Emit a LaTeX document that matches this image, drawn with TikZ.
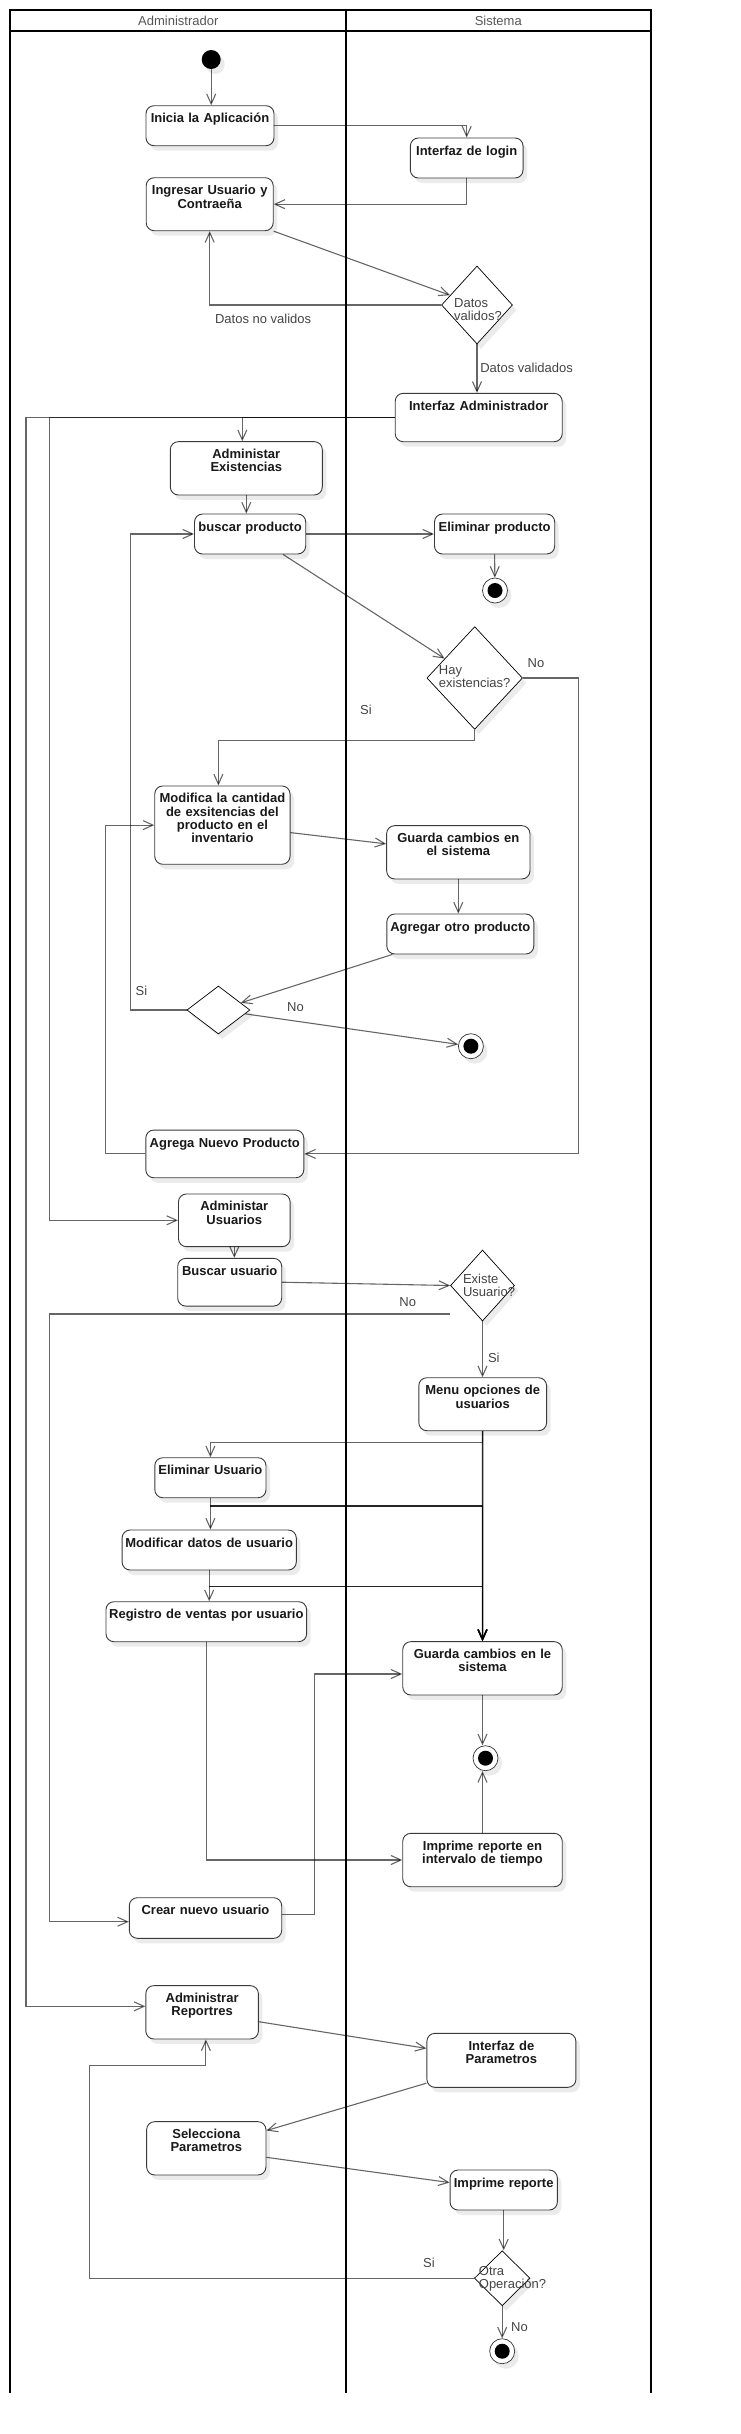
\documentclass[tikz,border=0pt]{standalone}
\usepackage{fontspec}
\setmainfont{Liberation Sans}
\usetikzlibrary{arrows.meta,shapes.geometric,shadows}
\definecolor{boxline}{HTML}{3A3A3A}
\definecolor{lanetext}{HTML}{555555}
\definecolor{guardtext}{HTML}{444444}
\definecolor{shadowgray}{HTML}{EBEBEB}
\newcommand{\actfont}{\fontsize{13}{13.3}\selectfont\bfseries}
\newcommand{\guardfont}{\fontsize{13}{12.8}\selectfont}
\tikzset{
	lane/.style={line width=2pt, draw=black},
	lane title/.style={font=\guardfont, text=lanetext, anchor=base},
	box shadow/.style={drop shadow={shadow xshift=4pt, shadow yshift=-5pt, fill=shadowgray, opacity=1}},
	activity/.style={
		rectangle,
		rounded corners=8pt,
		draw=boxline,
		line width=0.9pt,
		fill=white,
		align=center,
		font=\actfont,
		text=black!90,
		inner xsep=1pt,
		inner ysep=7.5pt,
		text height=9.5pt,
		box shadow
	},
	decision/.style={diamond, draw=black, line width=0.7pt, fill=white, inner sep=0pt, box shadow},
	decision text/.style={font=\guardfont, text=guardtext, align=left, inner sep=0pt, anchor=north west},
	start point/.style={circle, fill=black, inner sep=0pt, minimum size=19pt, box shadow},
	end point/.style={
		circle,
		draw=black!80,
		line width=0.7pt,
		fill=white,
		inner sep=0pt,
		minimum size=25pt,
		box shadow,
		path picture={\fill[black] (path picture bounding box.center) circle (7.5pt);}
	},
	guard/.style={font=\guardfont, text=guardtext, inner sep=0pt},
	flow/.style={draw=black, draw opacity=0.6, line width=1.1pt, -{Straight Barb[length=10pt,width=9pt]}},
	main flow/.style={flow, draw opacity=0.85, line width=1.5pt},
}

\begin{document}
\begin{tikzpicture}[x=1pt, y=-1pt]
\useasboundingbox (0,0) rectangle (741,2434);

\draw[lane] (9.5,2393.3) |- (650.7,10) -- (650.7,2393.3);
\draw[lane] (9.5,30.7) -- (650.7,30.7);
\draw[lane] (346,10) -- (346,2393.3);

\foreach \l/\x [count=\i] in {Administrador/178.3, Sistema/498.3}
	\node[lane title] (lane-\i) at (\x,25.7) {\l};

\node[start point] (start) at (211.2,59.5) {};
\node[activity, text width=126pt, text depth=15.5pt] (inicia) at (210,125.7) {Inicia la Aplicación};
\node[activity, text width=110.7pt, text depth=15.5pt] (login) at (466.7,158) {Interfaz de login};
\node[activity, text width=125pt, text depth=28.5pt] (ingresar) at (209.7,204.2) {Ingresar Usuario y\\Contraeña};
\node[decision, minimum width=71pt, minimum height=78pt] (datos) at (477,305) {};
\node[activity, text width=165pt, text depth=23.9pt] (admin) at (478.7,417.5) {Interfaz Administrador};

\node[activity, text width=150pt, text depth=28.8pt] (existencias) at (246.3,468.3) {Administar\\Existencias};
\node[activity, text width=109.2pt, text depth=15.5pt] (buscar) at (250.1,534) {buscar producto};
\node[activity, text width=118.2pt, text depth=15.5pt] (eliminar) at (494.6,534) {Eliminar producto};
\node[decision, minimum width=95.6pt, minimum height=102.7pt] (hay) at (474.7,678) {};
\node[activity, text width=133.3pt, text depth=53.8pt] (modifica) at (222.4,825.1) {Modifica la cantidad\\de exsitencias del\\producto en el\\inventario};
\node[activity, text width=141.3pt, text depth=28.8pt] (guarda) at (458.3,852.3) {Guarda cambios en\\el sistema};
\node[activity, text width=145pt, text depth=15.5pt] (otro) at (460.3,934) {Agregar otro producto};
\node[decision, minimum width=63pt, minimum height=48pt] (otro-dec) at (218.4,1010) {};
\node[activity, text width=156pt, text depth=23.2pt] (nuevo) at (224.8,1153.9) {Agrega Nuevo Producto};

\node[activity, text width=109.7pt, text depth=28.2pt] (usuarios) at (234.3,1220.3) {Administar\\Usuarios};
\node[activity, text width=102pt, text depth=23.2pt] (buscar-usr) at (229.7,1282.2) {Buscar usuario};
\node[decision, minimum width=64pt, minimum height=71pt] (existe) at (482.5,1285.5) {};
\node[activity, text width=125.8pt, text depth=28.5pt] (menu) at (482.7,1404.2) {Menu opciones de\\usuarios};
\node[activity, text width=109.2pt, text depth=15.5pt] (eliminar-usr) at (210.4,1477.7) {Eliminar Usuario};
\node[activity, text width=172.2pt, text depth=15.5pt] (modificar-usr) at (209.2,1550) {Modificar datos de usuario};
\node[activity, text width=198.7pt, text depth=15.5pt] (registro) at (206.3,1621.7) {Registro de ventas por usuario};
\node[activity, text width=157.5pt, text depth=28.8pt] (guarda-usr) at (482.5,1668.3) {Guarda cambios en le\\sistema};
\node[activity, text width=157.5pt, text depth=28.9pt] (intervalo) at (482.5,1860) {Imprime reporte en\\intervalo de tiempo};
\node[activity, text width=150.4pt, text depth=16.1pt] (crear) at (205.5,1918) {Crear nuevo usuario};

\node[activity, text width=110.6pt, text depth=28.8pt] (reportes) at (202.1,2012.3) {Administrar\\Reportres};
\node[activity, text width=147pt, text depth=29.5pt] (parametros) at (501.4,2060.3) {Interfaz de\\Parametros};
\node[activity, text width=117.3pt, text depth=28.8pt] (selecciona) at (206.3,2148.3) {Selecciona\\Parametros};
\node[activity, text width=105.3pt, text depth=15.5pt] (imprime) at (503.7,2190) {Imprime reporte};
\node[decision, minimum width=55.7pt, minimum height=55pt] (otra) at (502.2,2278.2) {};

\node[decision text] (datos-text) at ([xshift=-23pt, yshift=6.7pt]datos.center) {Datos\\validos?};
\node[decision text] (hay-text) at ([xshift=-36pt, yshift=12.3pt]hay.center) {Hay\\existencias?};
\node[decision text] (existe-text) at ([xshift=-19.7pt, yshift=11.5pt]existe.center) {Existe\\Usuario?};
\node[decision text] (otra-text) at ([xshift=-23.5pt, yshift=12.2pt]otra.center) {Otra\\Operación?};

\foreach \x/\y [count=\i] in {495/590.5, 470.9/1046.2, 485.5/1758.2, 502.2/2351.2}
	\node[end point] (end-\i) at (\x,\y) {};

\foreach \t/\x/\y [count=\i] in {Datos no validos/263.1/319.2, Datos validados/526.6/367.7,
		No/536/662.7, Si/366/710, Si/141.5/991, No/295.5/1006.8,
		No/407.7/1302, Si/493.8/1358, Si/429/2262.5, No/519.5/2326.7}
	\node[guard] (guard-\i) at (\x,\y) {\t};

\coordinate (rail-rep) at (26,417.5);
\coordinate (rail-usr) at (49.7,417.5);
\coordinate (hay-no) at (578.3,678);
\coordinate (otro-si) at (130.1,1010);
\coordinate (nuevo-loop) at (105.1,1153.9);
\coordinate (existe-no) at (49.7,1314);
\coordinate (crear-up) at (314.3,1914.3);
\coordinate (otra-si) at (89.9,2065.7);

\draw[flow] (start) -- (start |- inicia.north);
\draw[flow] (inicia.east) -| (login.north);
\draw[flow] (login.south) |- (ingresar.east);
\draw[flow] (ingresar.south east) -- (datos);
\draw[flow] (datos.west) -| (ingresar.south);
\draw[flow] (datos.south) -- (datos.south |- admin.north);

\draw[flow] (admin.west) -| ([xshift=-4pt]existencias.north);
\draw[flow] (admin.west) -- (rail-usr) |- (usuarios.west);
\draw[flow] (admin.west) -- (rail-rep) |- ([yshift=6pt]reportes.west);

\draw[flow] (existencias.south) -- (existencias.south |- buscar.north);
\draw[flow] (buscar.east) -- (eliminar.west);
\draw[flow] (eliminar.south) -- (end-1);
\draw[flow] ([xshift=33pt]buscar.south) -- (hay);
\draw[flow] (hay.east) -- (hay-no) |- (nuevo.east);
\draw[flow] (hay.south) -- ++(0,10.7) -| ([xshift=-4pt]modifica.north);
\draw[flow] ([yshift=-7.5pt]modifica.east) -- (guarda);
\draw[flow] (guarda.south) -- (guarda.south |- otro.north);
\draw[flow] ([xshift=6pt]otro.south west) -- (otro-dec);
\draw[flow] (otro-dec.west) -- (otro-si) |- (buscar.west);
\draw[flow] (otro-dec) -- (end-2);
\draw[flow] (nuevo.west) -- (nuevo-loop) |- (modifica.west);

\draw[flow] (usuarios.south) -- (usuarios.south |- buscar-usr.north);
\draw[flow] (buscar-usr.east) -- (existe.west);
\draw[flow] ([yshift=-28.5pt]existe.west) -- (existe-no) |- ([yshift=-3.7pt]crear.west);
\draw[flow] (existe.south) -- (existe.south |- menu.north);
\draw[flow] (menu.south) -- ++(0,11) -| (eliminar-usr.north);
\draw[flow] (eliminar-usr.south) -- (eliminar-usr.south |- modificar-usr.north);
\draw[flow] (modificar-usr.south) -- (modificar-usr.south |- registro.north);
\draw[main flow] (menu.south) -- (guarda-usr.north);
\draw[main flow] (eliminar-usr.south) ++(0,8) -| (guarda-usr.north);
\draw[main flow] (modificar-usr.south) ++(0,16) -| (guarda-usr.north);
\draw[flow] (guarda-usr.south) -- (guarda-usr.south |- end-3.north);
\draw[flow] (intervalo.north) -- (intervalo.north |- end-3.south);
\draw[flow] (registro.south) |- (intervalo.west);
\draw[flow] ([yshift=3.7pt]crear.east) -- (crear-up) |- ([yshift=-5.7pt]guarda-usr.west);

\draw[flow] ([yshift=-9.4pt]reportes.east) -- (parametros);
\draw[flow] ([yshift=4.6pt]parametros.south west) -- (selecciona);
\draw[flow] ([yshift=-9pt]selecciona.east) -- (imprime);
\draw[flow] (imprime.south) -- (imprime.south |- otra.north);
\draw[flow] (otra.west) -| (otra-si) -| ([xshift=3.8pt]reportes.south);
\draw[flow] (otra.south) -- (end-4);

\end{tikzpicture}
\end{document}
